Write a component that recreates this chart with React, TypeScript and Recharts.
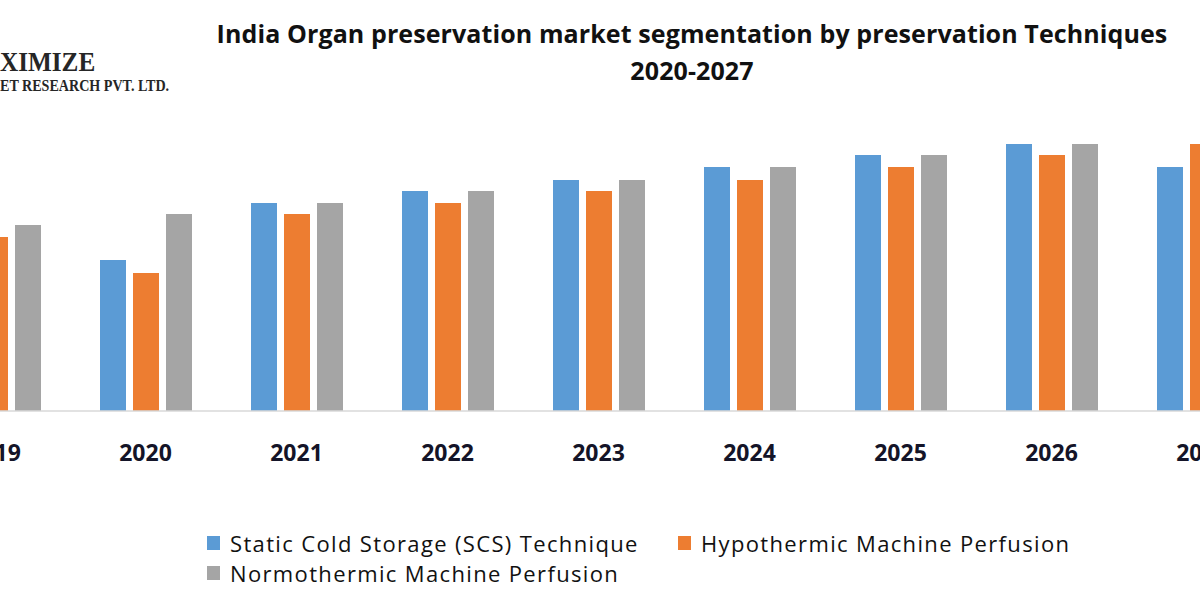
import { BarChart, Bar, XAxis, YAxis, Legend } from 'recharts';

const years = ['2019', '2020', '2021', '2022', '2023', '2024', '2025', '2026', '2027'];
const staticCold = [160, 151, 208, 220, 231, 244, 256, 267, 244];
const hypothermic = [174, 138, 197, 208, 220, 231, 244, 256, 267];
const normothermic = [186, 197, 208, 220, 231, 244, 256, 267, 280];

const seriesNames = [
  'Static Cold Storage (SCS) Technique',
  'Hypothermic Machine Perfusion',
  'Normothermic Machine Perfusion',
];
const colors = ['#5b9bd5', '#ed7d31', '#a5a5a5'];

const data = years.map((year, i) => ({
  year,
  scs: staticCold[i],
  hmp: hypothermic[i],
  nmp: normothermic[i],
}));

// the picture is a crop: 2019 and 2027 run off the edges
const CHART_LEFT = -81;
const textFont = '"Open Sans", sans-serif';
const logoFont = '"Liberation Serif", serif';

function YearTick(props: any) {
  const { x, y, payload } = props;
  return (
    <text
      x={x}
      y={y + 42}
      textAnchor="middle"
      fontFamily={textFont}
      fontWeight={700}
      fontSize={23}
      fill="#141428"
    >
      {payload.value}
    </text>
  );
}

function renderLegend() {
  const item = (i: number) => (
    <div key={i} style={{ display: 'flex', alignItems: 'center', height: 30 }}>
      <span style={{ width: 13, height: 14, background: colors[i], marginRight: 10 }} />
      <span style={{ fontFamily: textFont, fontSize: 22, color: '#111', letterSpacing: 1.35, whiteSpace: 'nowrap' }}>
        {seriesNames[i]}
      </span>
    </div>
  );
  return (
    <div style={{ display: 'grid', gridTemplateColumns: '471px auto' }}>
      {item(0)}
      {item(1)}
      {item(2)}
    </div>
  );
}

export default function App() {
  return (
    <div style={{ position: 'fixed', left: 0, top: 0, width: 1200, height: 600, overflow: 'hidden', background: '#fff' }}>
      <div style={{ position: 'absolute', left: 0, top: 46, fontFamily: logoFont, fontWeight: 700, fontSize: 28, color: '#262626', whiteSpace: 'nowrap', lineHeight: '32px', transform: 'scaleX(0.9)', transformOrigin: 'left' }}>
        XIMIZE
      </div>
      <div style={{ position: 'absolute', left: 0, top: 77, fontFamily: logoFont, fontWeight: 700, fontSize: 16, color: '#262626', whiteSpace: 'nowrap', lineHeight: '18px', transform: 'scaleX(0.88)', transformOrigin: 'left' }}>
        ET RESEARCH PVT. LTD.
      </div>
      <div style={{ position: 'absolute', left: 0, width: 1384, top: 15, textAlign: 'center', fontFamily: textFont, fontWeight: 700, fontSize: 25, color: '#111', lineHeight: '37px', letterSpacing: 0.1 }}>
        <div>India Organ preservation market segmentation by preservation Techniques</div>
        <div>2020-2027</div>
      </div>
      <div style={{ position: 'absolute', left: CHART_LEFT, top: 0 }}>
        <BarChart
          width={1359}
          height={600}
          data={data}
          margin={{ top: 111, right: 0, bottom: 129, left: 0 }}
          barSize={26}
          barGap={7}
        >
          <XAxis
            dataKey="year"
            axisLine={{ stroke: '#d9d9d9', strokeWidth: 1.5 }}
            tickLine={false}
            tick={<YearTick />}
            height={60}
            interval={0}
          />
          <YAxis hide domain={[0, 300]} />
          <Legend
            layout="horizontal"
            verticalAlign="middle"
            align="center"
            wrapperStyle={{ left: 207 - CHART_LEFT, top: 528, width: 980 }}
            content={renderLegend}
          />
          <Bar dataKey="scs" name={seriesNames[0]} fill={colors[0]} isAnimationActive={false} />
          <Bar dataKey="hmp" name={seriesNames[1]} fill={colors[1]} isAnimationActive={false} />
          <Bar dataKey="nmp" name={seriesNames[2]} fill={colors[2]} isAnimationActive={false} />
        </BarChart>
      </div>
    </div>
  );
}
